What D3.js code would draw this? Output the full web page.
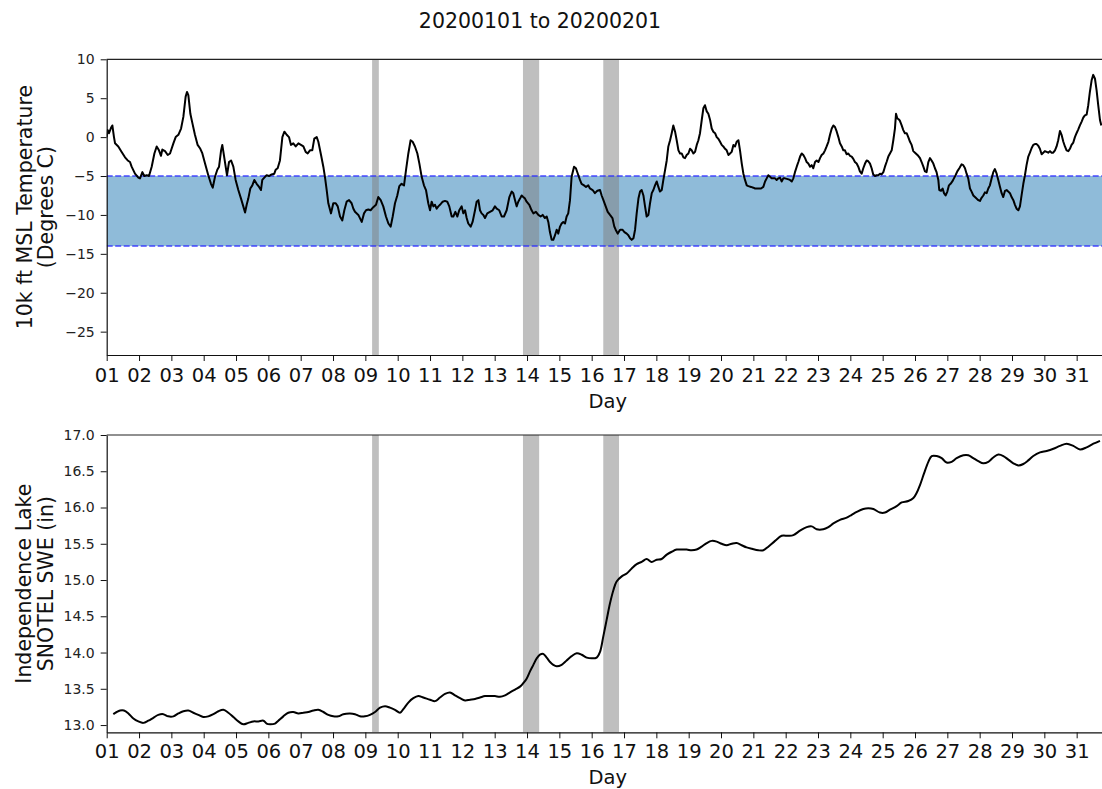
<!DOCTYPE html>
<html><head><meta charset="utf-8">
<script src="https://cdn.jsdelivr.net/npm/d3@7"></script>
<style>body{margin:0;background:#fff}svg{display:block}</style>
</head><body>
<svg id="c" width="1102" height="789"></svg>
<script>
// ---- data (hours since 2020-01-01 00:00) ----
const tempHours = [0,0.7,1.7,3.2,4.2,5.4,6.2,8.6,11.1,13.6,15.6,17.3,18.5,21.0,23.5,24.7,26.5,27.9,29.7,31.4,33.4,35.4,37.1,38.8,40.3,41.3,43.3,45.3,47.0,49.5,51.2,53.2,55.2,56.9,58.6,59.6,60.6,62.1,63.6,65.5,67.5,69.5,71.0,73.0,75.4,77.4,78.7,80.4,82.1,83.4,84.9,85.8,86.8,88.3,89.3,90.8,92.3,94.0,95.7,97.7,99.7,101.4,102.7,103.9,105.1,106.6,108.1,109.6,111.3,113.1,114.5,115.5,117.0,118.7,120.5,122.4,124.4,125.4,126.9,128.6,130.4,131.9,133.6,135.3,136.8,138.5,140.3,142.3,144.2,146.0,147.7,149.2,150.9,152.6,154.1,155.9,157.1,159.1,160.8,162.0,163.3,164.5,166.5,168.2,170.0,171.5,173.2,174.9,176.4,178.1,179.9,181.8,183.1,184.3,186.8,189.3,191.0,192.5,194.2,195.9,197.9,199.9,201.6,203.4,205.3,207.3,209.1,210.8,212.3,214.0,215.7,217.2,218.9,220.7,222.2,223.9,225.6,227.1,228.8,230.6,232.1,233.8,235.5,237.0,238.7,240.0,241.2,242.5,243.7,244.9,246.2,247.4,249.4,251.1,252.8,254.3,256.1,257.3,258.8,260.3,261.7,263.5,264.7,266.0,267.2,268.4,270.2,271.6,273.4,274.6,275.9,277.1,278.3,279.6,280.8,282.5,284.5,286.5,288.2,289.5,291.4,293.2,294.9,296.9,298.9,300.6,301.8,303.1,304.3,305.5,306.8,308.0,309.2,310.5,311.7,313.7,315.4,316.7,318.6,320.4,322.1,323.6,325.3,326.6,327.8,329.0,330.3,331.5,332.8,334.0,335.2,336.5,337.7,338.9,340.2,341.4,342.6,343.9,345.1,346.9,348.3,350.1,351.3,352.5,354.3,355.8,357.5,358.7,360.7,362.4,364.2,366.2,367.4,368.7,370.4,371.9,373.6,375.4,376.8,377.8,379.3,381.1,382.8,384.3,386.0,387.2,388.5,389.7,391.0,392.2,393.4,394.7,395.9,397.1,398.4,399.6,400.8,402.1,403.3,404.6,405.8,407.0,408.3,409.5,410.7,412.0,413.2,414.5,415.7,416.9,418.2,419.4,420.6,421.9,423.1,424.4,425.6,426.8,428.1,429.3,430.5,431.8,433.0,434.2,435.5,436.7,438.0,439.2,440.4,441.7,442.9,444.1,445.4,446.6,447.9,449.1,450.3,451.6,452.8,454.0,455.3,456.5,457.7,459.0,460.2,461.5,462.7,463.9,465.2,466.4,467.6,468.9,470.1,471.4,472.6,473.8,475.1,476.3,478.3,480.0,481.3,483.7,485.7,487.4,488.7,489.9,491.1,492.4,493.6,494.9,496.1,497.3,498.6,499.8,501.0,502.3,503.5,505.5,507.2,508.5,509.7,510.9,512.2,513.4,514.7,515.9,517.1,518.4,519.6,520.8,522.1,523.3,524.5,525.8,527.0,528.3,529.5,530.7,532.0,533.2,534.4,535.7,536.9,538.2,539.4,540.6,541.9,543.1,544.3,545.6,546.8,548.0,549.2,550.5,551.7,553.0,554.2,555.4,556.7,557.9,559.1,560.4,561.6,562.9,564.1,565.3,566.6,567.8,569.0,570.3,571.5,572.8,574.0,575.2,576.5,577.7,578.9,580.2,581.4,582.7,583.9,585.1,585.9,586.9,587.8,588.8,590.1,591.3,592.5,593.8,595.0,596.3,597.5,598.7,600.0,601.2,602.4,603.7,604.9,606.2,607.4,608.6,609.9,611.1,612.3,613.6,614.8,616.0,617.3,618.0,619.3,620.5,621.5,622.7,624.0,625.2,626.4,627.7,628.9,630.1,631.4,632.9,634.6,635.8,637.1,638.3,639.5,640.8,642.0,643.3,644.5,645.7,647.0,648.2,649.4,650.7,651.9,653.2,654.4,655.6,656.9,658.1,659.3,660.6,661.8,663.1,664.3,665.5,666.8,668.0,669.2,670.5,671.7,673.0,674.2,675.4,676.7,677.9,679.1,680.4,681.6,682.8,684.1,685.3,686.6,687.8,689.0,690.3,691.5,692.7,694.0,695.2,696.4,697.7,698.9,700.2,701.4,702.6,703.9,705.1,706.3,707.6,708.8,710.1,711.3,712.5,713.8,715.0,716.2,717.5,718.7,719.9,721.2,722.4,723.7,724.9,726.1,727.4,728.6,729.8,731.1,732.3,733.6,734.8,736.0,737.3,738.3];
const tempValues = [0.0,0.9,0.5,1.2,1.5,0.0,-0.8,-1.2,-1.9,-2.6,-3.0,-3.2,-3.8,-4.7,-5.2,-5.3,-4.5,-5.0,-4.9,-5.0,-3.8,-2.1,-1.2,-1.7,-2.4,-1.6,-1.8,-2.3,-2.1,-0.8,0.0,0.3,1.1,2.6,5.2,5.8,5.4,3.0,1.8,0.3,-1.0,-1.5,-2.1,-3.4,-4.9,-6.0,-6.5,-5.1,-4.2,-3.8,-1.7,-1.0,-2.1,-3.8,-4.9,-3.2,-3.0,-3.8,-5.5,-6.8,-7.9,-8.9,-9.7,-8.7,-7.9,-6.6,-6.2,-5.5,-6.0,-6.4,-6.8,-5.5,-5.2,-4.9,-5.0,-4.8,-4.7,-4.2,-4.0,-3.0,0.0,0.7,0.3,0.0,-1.0,-0.8,-1.2,-0.8,-1.0,-1.2,-1.9,-2.1,-1.7,-1.7,-0.2,0.0,-0.6,-2.3,-3.8,-5.1,-6.8,-8.5,-9.8,-8.5,-8.5,-8.9,-10.2,-10.7,-9.4,-8.3,-8.1,-8.5,-9.2,-9.6,-10.0,-10.9,-9.8,-9.4,-9.3,-9.4,-9.0,-8.7,-7.7,-8.1,-8.9,-10.2,-11.1,-11.5,-10.2,-8.5,-7.5,-6.3,-6.0,-6.2,-4.2,-2.1,-0.4,-0.6,-1.2,-2.1,-3.4,-5.1,-6.2,-6.8,-8.5,-9.4,-8.3,-8.9,-8.7,-9.2,-8.9,-8.7,-8.3,-8.2,-8.3,-8.9,-10.2,-10.2,-9.6,-10.2,-9.4,-8.9,-9.8,-9.4,-10.4,-11.1,-11.5,-10.9,-9.4,-8.3,-8.1,-9.4,-9.8,-10.0,-10.4,-9.8,-9.6,-9.4,-8.9,-9.2,-9.4,-10.2,-10.2,-9.4,-7.7,-7.0,-7.2,-8.1,-8.9,-8.3,-7.9,-7.5,-7.7,-7.9,-8.3,-8.7,-9.4,-9.8,-9.6,-10.0,-10.2,-10.0,-10.4,-10.2,-10.9,-12.2,-13.2,-13.2,-12.6,-11.9,-12.4,-11.5,-11.1,-10.9,-11.1,-10.2,-9.8,-8.1,-5.1,-3.8,-4.0,-4.9,-5.5,-6.0,-6.2,-6.4,-6.2,-6.6,-6.8,-7.2,-6.9,-6.8,-7.5,-8.1,-8.9,-9.6,-10.0,-10.4,-11.5,-11.9,-12.4,-11.9,-11.9,-12.2,-12.4,-12.6,-13.0,-13.2,-13.0,-11.9,-9.8,-7.9,-7.0,-6.8,-7.5,-8.9,-10.2,-10.0,-8.5,-7.2,-6.8,-6.2,-5.7,-6.4,-7.0,-6.8,-5.5,-4.2,-3.0,-1.2,-0.4,0.5,1.5,0.7,-0.4,-1.7,-2.1,-2.1,-2.6,-2.7,-2.3,-2.1,-1.5,-1.7,-2.1,-1.9,-1.0,-0.4,0.5,2.2,3.7,4.1,3.3,3.0,2.2,1.1,0.7,0.5,0.0,-0.2,-0.6,-1.0,-1.2,-1.5,-1.7,-2.3,-2.1,-1.9,-1.0,-1.2,-0.6,-0.4,-1.7,-3.4,-4.7,-5.5,-6.2,-6.3,-6.4,-6.5,-6.6,-6.6,-6.6,-6.4,-5.7,-5.3,-4.9,-5.1,-5.3,-5.3,-5.3,-5.5,-5.3,-5.2,-5.7,-5.3,-5.3,-5.4,-5.5,-5.7,-5.3,-4.5,-3.8,-3.2,-2.5,-2.1,-2.3,-2.7,-3.2,-3.4,-3.8,-3.6,-4.0,-3.2,-3.0,-3.2,-2.7,-2.3,-2.1,-1.7,-1.2,-0.6,0.3,1.1,1.5,1.3,0.7,0.0,-0.8,-1.2,-1.7,-1.7,-2.2,-2.1,-2.4,-2.5,-2.8,-3.2,-3.4,-3.8,-4.4,-4.7,-4.0,-3.4,-3.0,-3.1,-3.4,-4.0,-4.8,-5.0,-4.9,-4.9,-4.7,-4.8,-4.5,-3.8,-3.2,-2.5,-2.1,-1.7,-0.4,1.1,3.0,2.4,2.3,2.1,1.5,0.9,0.5,0.5,0.0,-0.6,-1.0,-1.8,-2.0,-2.2,-2.4,-2.7,-3.2,-3.8,-4.4,-4.5,-3.2,-2.7,-3.0,-3.4,-4.0,-4.5,-5.5,-6.8,-6.9,-6.6,-7.2,-7.5,-7.0,-6.2,-6.0,-5.7,-5.3,-4.9,-4.4,-4.0,-3.5,-3.6,-4.0,-4.7,-5.3,-6.6,-7.0,-7.5,-7.7,-7.9,-8.1,-8.2,-7.8,-7.5,-7.1,-7.2,-6.6,-6.2,-5.3,-4.5,-4.1,-4.7,-5.5,-6.4,-7.2,-7.7,-6.9,-6.8,-7.0,-7.2,-7.7,-8.1,-8.7,-9.2,-9.4,-8.9,-7.5,-6.0,-4.9,-3.6,-2.5,-2.0,-1.4,-1.0,-0.9,-0.9,-1.1,-1.5,-2.2,-2.0,-1.8,-1.9,-2.0,-1.8,-2.0,-2.0,-1.7,-1.2,-0.4,0.8,0.3,-0.6,-1.2,-1.7,-1.8,-1.5,-1.0,-0.7,0.0,0.5,1.0,1.5,2.0,2.5,2.8,2.9,4.1,5.8,7.3,8.0,7.5,6.0,4.1,2.2,1.5];
const sweHours = [4.9,7.4,9.9,12.8,16.1,19.8,23.5,27.2,30.9,34.6,38.3,42.0,45.7,49.5,53.2,56.9,60.6,64.3,68.0,71.7,75.4,79.2,82.9,86.6,90.3,94.0,97.7,101.4,105.1,108.8,112.6,116.3,118.7,121.2,124.9,127.4,131.1,134.8,138.5,142.3,146.0,149.7,153.4,157.1,160.8,164.5,168.2,171.9,175.6,180.6,184.3,188.0,191.7,195.4,199.2,202.9,206.6,210.3,214.0,217.7,220.2,223.9,227.6,231.3,235.0,240.0,243.7,247.4,251.1,254.8,258.5,262.3,266.0,269.7,273.4,277.1,280.8,284.5,288.2,291.9,295.7,299.4,303.1,306.8,309.3,311.7,314.2,316.7,319.2,321.6,324.1,326.6,329.1,331.5,334.0,337.7,341.4,345.1,348.9,352.6,356.3,360.0,363.7,366.2,368.6,371.1,373.6,376.1,378.5,382.3,386.0,389.7,393.4,397.1,400.8,404.5,408.2,411.9,415.7,419.4,423.1,426.8,430.5,434.2,437.9,441.6,445.4,449.1,452.8,456.5,460.2,463.9,467.6,471.3,475.0,479.0,483.7,487.4,491.1,496.1,501.0,506.0,509.7,514.6,519.6,523.3,527.0,531.9,535.7,539.4,544.3,549.3,553.0,556.7,561.6,565.4,569.1,574.0,577.7,581.4,586.4,590.1,595.0,598.8,601.2,603.7,606.7,609.9,612.4,616.1,619.8,623.5,627.2,630.9,635.9,639.6,643.3,647.0,650.7,654.4,658.1,661.9,665.6,669.3,673.0,676.7,680.4,684.1,687.8,692.8,697.7,702.7,707.6,712.6,717.5,722.5,727.4,732.4,737.3];
const sweValues = [13.15,13.18,13.20,13.20,13.16,13.09,13.05,13.03,13.06,13.10,13.14,13.15,13.12,13.12,13.16,13.19,13.20,13.17,13.14,13.11,13.12,13.15,13.19,13.21,13.17,13.11,13.05,13.01,13.03,13.05,13.05,13.06,13.02,13.01,13.02,13.06,13.12,13.17,13.18,13.16,13.17,13.18,13.20,13.21,13.18,13.14,13.12,13.12,13.15,13.16,13.15,13.12,13.12,13.14,13.18,13.24,13.26,13.24,13.21,13.17,13.22,13.31,13.37,13.40,13.38,13.35,13.33,13.38,13.43,13.45,13.41,13.37,13.34,13.35,13.36,13.38,13.40,13.40,13.40,13.39,13.41,13.45,13.49,13.53,13.58,13.64,13.74,13.83,13.92,13.97,13.98,13.93,13.87,13.83,13.81,13.83,13.89,13.95,13.99,13.97,13.93,13.92,13.93,14.01,14.22,14.45,14.68,14.86,14.98,15.05,15.09,15.16,15.22,15.25,15.29,15.25,15.28,15.29,15.35,15.39,15.42,15.42,15.42,15.41,15.42,15.46,15.51,15.54,15.53,15.50,15.48,15.50,15.51,15.48,15.45,15.43,15.41,15.41,15.46,15.54,15.61,15.61,15.62,15.68,15.73,15.74,15.70,15.70,15.73,15.78,15.83,15.86,15.90,15.94,15.98,15.99,15.98,15.93,15.93,15.97,16.02,16.07,16.09,16.13,16.20,16.31,16.47,16.63,16.71,16.71,16.68,16.62,16.63,16.68,16.72,16.72,16.68,16.64,16.61,16.63,16.69,16.73,16.71,16.66,16.61,16.58,16.60,16.65,16.71,16.76,16.78,16.81,16.85,16.88,16.85,16.80,16.83,16.88,16.92];
const dayLabels = ["01","02","03","04","05","06","07","08","09","10","11","12","13","14","15","16","17","18","19","20","21","22","23","24","25","26","27","28","29","30","31"];
const tempTicks = [10,5,0,-5,-10,-15,-20,-25];
const sweTicks = [13.0,13.5,14.0,14.5,15.0,15.5,16.0,16.5,17.0];
const shadeStart = [197,309,368.6];
const shadeEnd = [202,321,380.3];
const normalRange = [-14,-5];
const titleText = "20200101 to 20200201";

// ---- layout ----
const svg = d3.select("#c");
const FONT = "DejaVu Sans, sans-serif";
svg.append("rect").attr("width",1102).attr("height",789).attr("fill","#fff");
const x = d3.scaleLinear().domain([0,744]).range([106.7,1109]);
const tickHours = dayLabels.map((d,i)=>i*24);

function panel(top, bottom, yDomain, ticks, fmt, lab1, lab2, lab1x, lab2x, xPad, dayY){
  const y = d3.scaleLinear().domain(yDomain).range([bottom, top]);
  const g = svg.append("g");
  const id = "clip"+Math.round(top);
  svg.append("clipPath").attr("id",id).append("rect")
    .attr("x",x.range()[0]).attr("y",top).attr("width",x.range()[1]-x.range()[0]).attr("height",bottom-top);
  const data = g.append("g").attr("clip-path",`url(#${id})`);
  return {y, g, data};
}

function decorate(p, top, bottom, ticks, fmt, lab1, lab2, lab1x, lab2x, xPad, dayY){
  const {y, g} = p;
  // axes
  const xa = g.append("g").attr("transform",`translate(0,${bottom})`)
    .call(d3.axisBottom(x).tickValues(tickHours).tickFormat((d,i)=>dayLabels[i]).tickSize(6).tickPadding(xPad).tickSizeOuter(0));
  xa.selectAll("text").attr("font-size","19.5px").attr("font-family",FONT).attr("fill","#111");
  const ya = g.append("g").attr("transform",`translate(${x.range()[0]},0)`)
    .call(d3.axisLeft(y).tickValues(ticks).tickFormat(fmt).tickSize(6).tickPadding(6).tickSizeOuter(0));
  ya.selectAll("text").attr("font-size","14px").attr("font-family",FONT).attr("fill","#222");
  g.selectAll(".domain").attr("stroke","#111").attr("stroke-width",1.2);
  g.selectAll(".tick line").attr("stroke","#111").attr("stroke-width",1);
  // top spine
  g.append("line").attr("x1",x.range()[0]).attr("x2",x.range()[1]).attr("y1",top).attr("y2",top)
    .attr("stroke","#222").attr("stroke-width",1.2);
  // labels
  const cy = (top+bottom)/2;
  g.append("text").attr("transform",`translate(${lab1x},${cy}) rotate(-90)`).attr("text-anchor","middle")
    .attr("font-size","20.5px").attr("font-family",FONT).attr("fill","#111").text(lab1);
  g.append("text").attr("transform",`translate(${lab2x},${cy}) rotate(-90)`).attr("text-anchor","middle")
    .attr("font-size","20.5px").attr("font-family",FONT).attr("fill","#111").text(lab2);
  g.append("text").attr("x",(x.range()[0]+x.range()[1])/2).attr("y",dayY).attr("text-anchor","middle")
    .attr("font-size","19.5px").attr("font-family",FONT).attr("fill","#111").text("Day");
}

function shades(p, top, bottom){
  p.data.selectAll("rect.shade").data(shadeStart).enter().append("rect").attr("class","shade")
    .attr("x",(d)=>x(d)).attr("width",(d,i)=>x(shadeEnd[i])-x(d))
    .attr("y",top).attr("height",bottom-top).attr("fill","#808080").attr("fill-opacity",0.5);
}

// ---- top panel ----
const T0=59.3, T1=355;
const pT = panel(T0,T1,[-28,10]);
pT.data.append("rect").attr("x",x.range()[0]).attr("width",x.range()[1]-x.range()[0])
  .attr("y",pT.y(normalRange[1])).attr("height",pT.y(normalRange[0])-pT.y(normalRange[1]))
  .attr("fill","#1f77b4").attr("fill-opacity",0.5);
shades(pT,T0,T1);
normalRange.forEach(v=>{
  pT.data.append("line").attr("x1",x.range()[0]).attr("x2",x.range()[1]).attr("y1",pT.y(v)).attr("y2",pT.y(v))
    .attr("stroke","#2b2bff").attr("stroke-width",1.4).attr("stroke-dasharray","6,2.5").attr("stroke-opacity",0.85);
});
pT.data.append("path").datum(tempHours.map((h,i)=>[h,tempValues[i]]))
  .attr("d",d3.line().x(d=>x(d[0])).y(d=>pT.y(d[1])))
  .attr("fill","none").attr("stroke","#000").attr("stroke-width",2).attr("stroke-linejoin","round");
decorate(pT,T0,T1,tempTicks,d3.format("d"),"10k ft MSL Temperature","(Degrees C)",32,53,7.5,407.5);

// ---- bottom panel ----
const B0=435, B1=732.3;
const pB = panel(B0,B1,[12.9,17.0]);
shades(pB,B0,B1);
pB.data.append("path").datum(sweHours.map((h,i)=>[h,sweValues[i]]))
  .attr("d",d3.line().curve(d3.curveCatmullRom).x(d=>x(d[0])).y(d=>pB.y(d[1])))
  .attr("fill","none").attr("stroke","#000").attr("stroke-width",2).attr("stroke-linejoin","round");
decorate(pB,B0,B1,sweTicks,d3.format(".1f"),"Independence Lake","SNOTEL SWE (in)",30.5,52.5,5.5,783.5);

// ---- title ----
svg.append("text").attr("x",540).attr("y",28).attr("text-anchor","middle")
  .attr("font-size","20.5px").attr("font-family",FONT).attr("fill","#111").text(titleText);
</script>
</body></html>
